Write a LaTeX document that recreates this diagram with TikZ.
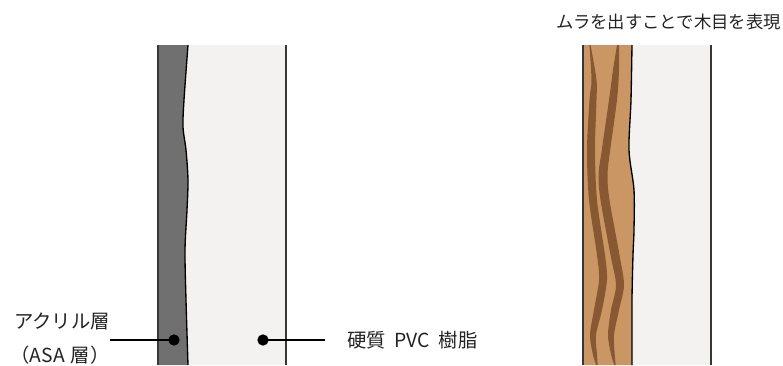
\documentclass[tikz,border=0pt]{standalone}
\usepackage{fontspec}
\setmainfont{Noto Sans CJK JP}
\usetikzlibrary{positioning}

\definecolor{asagray}{RGB}{112,112,112}
\definecolor{pvcwhite}{RGB}{243,242,240}
\definecolor{woodbase}{RGB}{202,151,100}
\definecolor{woodgrain}{RGB}{136,88,50}
\definecolor{edgegray}{RGB}{55,55,55}
\definecolor{textgray}{RGB}{35,35,35}

\tikzset{
  callout/.style={inner sep=0.75pt, text=textgray, font=\fontsize{14.5}{17}\selectfont},
  dot/.style={circle, fill=black, inner sep=0pt, minimum size=8.5pt},
  leader/.style={line width=0.9pt},
  sideline/.style={draw=edgegray, line width=0.8pt},
}

\begin{document}
\begin{tikzpicture}[x=0.75pt,y=0.75pt,yscale=-1,xscale=1]
    \useasboundingbox (0,0) rectangle (783,365);

    %Shape: PVC board, plain
    \fill [pvcwhite] (158,45) rectangle (286,365);
    %Shape: acrylic layer with uneven boundary
    \fill [asagray] (158,45) -- plot [smooth] coordinates {(188,45) (184,100) (183,127) (186,150) (188,180) (187,210) (185,250) (186,300) (188,365)} -- (158,365) -- cycle;
    \draw [line width=1pt] plot [smooth] coordinates {(188,45) (184,100) (183,127) (186,150) (188,180) (187,210) (185,250) (186,300) (188,365)};
    \draw [sideline] (158,45) -- (158,365);
    \draw [sideline] (286,45) -- (286,365);

    %Shape: PVC board, wood grain
    \fill [pvcwhite] (583,45) rectangle (711,365);
    \fill [woodbase] (583,45) -- plot [smooth] coordinates {(632,45) (631,100) (629,150) (634,190) (634,230) (633,255) (632,300) (632,365)} -- (583,365) -- cycle;
    % grain streaks
    \fill [woodgrain] plot [smooth] coordinates {(589.4,45) (591.5,80) (589.5,100) (587,150) (589,200) (597,255) (599,280) (594,310) (590,335) (593,355) (596.3,365)}
        -- plot [smooth] coordinates {(597.7,365) (597,355) (596,335) (602,310) (607,280) (605,255) (597,200) (595,150) (596.5,100) (596.5,80) (590.6,45)} -- cycle;
    \fill [woodgrain] plot [smooth] coordinates {(617,45) (613,70) (609,100) (601.8,150) (598.5,175) (600.5,200) (610.5,255) (616,285) (611,310) (608,335) (611.2,355) (614.3,365)}
        -- plot [smooth] coordinates {(615.7,365) (614.8,355) (614,335) (619,310) (624,285) (619.5,255) (609.5,200) (607.5,175) (610.2,150) (617,100) (619,70) (619,45)} -- cycle;
    \draw [line width=1pt] plot [smooth] coordinates {(632,45) (631,100) (629,150) (634,190) (634,230) (633,255) (632,300) (632,365)};
    \draw [sideline] (583,45) -- (583,365);
    \draw [sideline] (711,45) -- (711,365);

    % Text Node
    \node [callout] (acryl) at (62,321) {アクリル層};
    % Text Node
    \node [callout] (asa) at (60,355) {（ASA\hspace{0.3em}層）};
    % Text Node
    \node [callout, anchor=west] (pvc) at (346,340) {硬質\hspace{0.45em}PVC\hspace{0.45em}樹脂};
    % Text Node
    \node [callout, anchor=east, font=\fontsize{13}{16}\selectfont] (grain) at (782,22) {ムラを出すことで木目を表現};

    % pointers
    \node [dot] (asadot) at (174,340) {};
    \node [dot] (pvcdot) at (263,340) {};
    \coordinate (asaend) at (110,340);
    \coordinate (pvcend) at (325,340);
    \draw [leader] (asaend) -- (asadot.center);
    \draw [leader] (pvcdot.center) -- (pvcend);

\end{tikzpicture}
\end{document}
